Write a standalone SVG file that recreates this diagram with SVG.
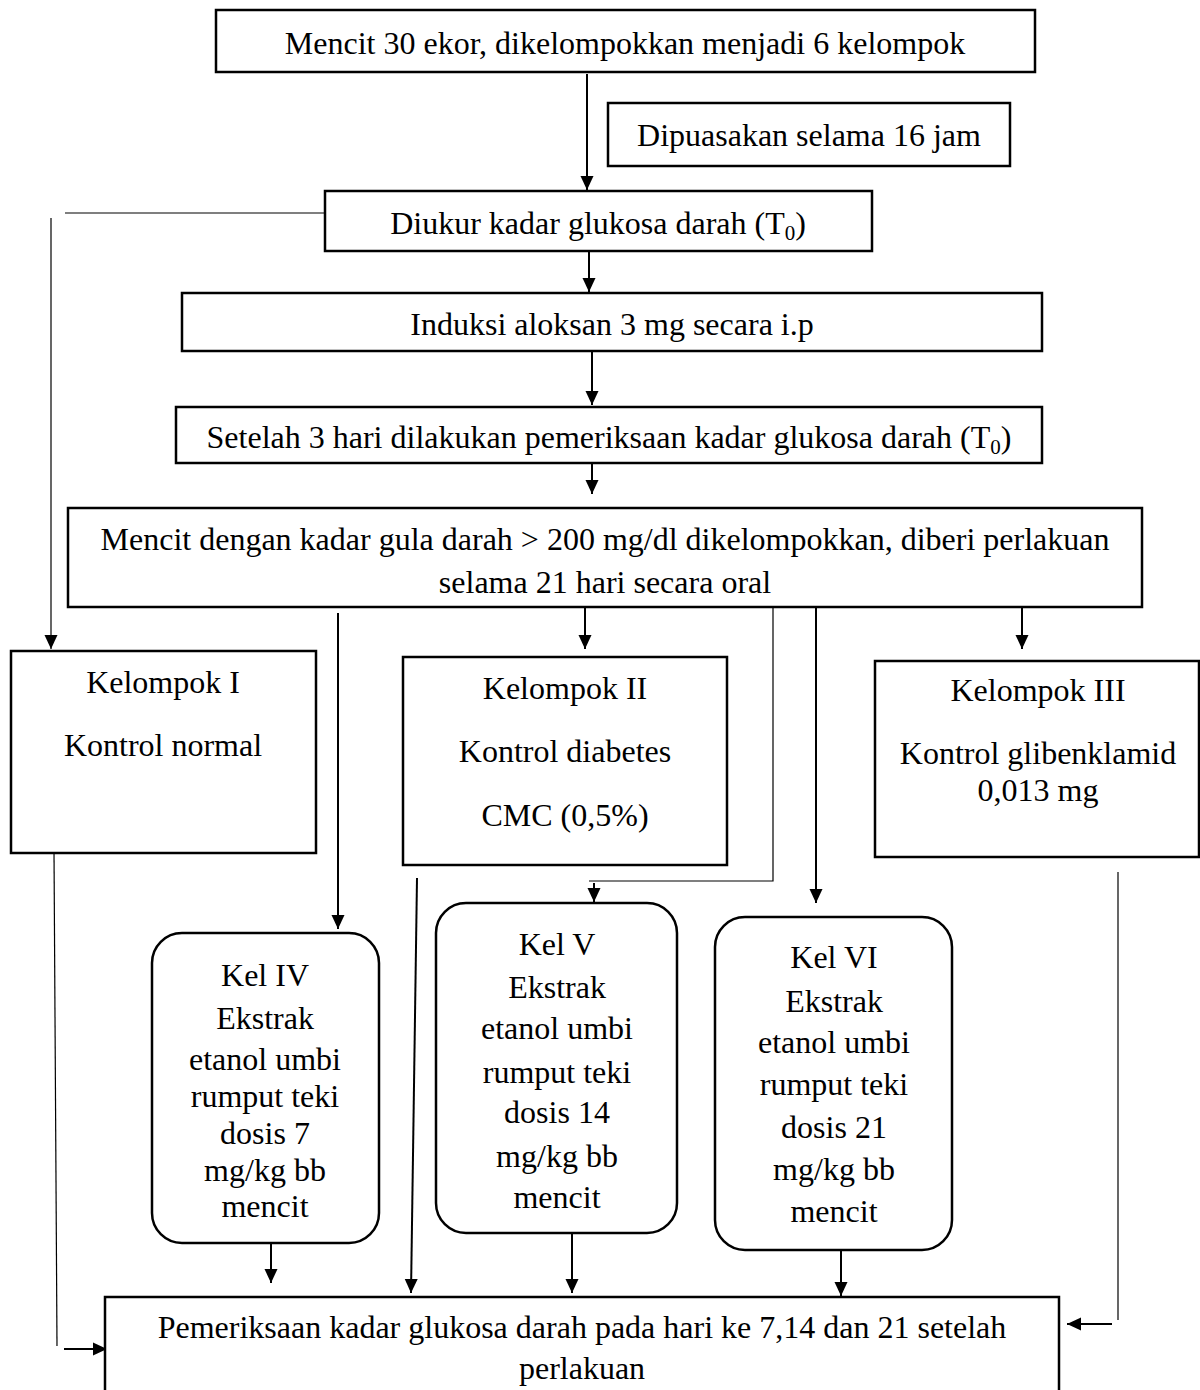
<svg xmlns="http://www.w3.org/2000/svg" width="1200" height="1390" viewBox="0 0 1200 1390">
<defs>
<style>
.box{fill:#fff;stroke:#000;stroke-width:2.5}
.t{font-family:"Liberation Serif","Times New Roman",serif;font-size:32px;fill:#000;text-anchor:middle}
.sub{font-size:21px}
.c{fill:none;stroke:#000;stroke-width:2}
.th{fill:none;stroke:#000;stroke-width:1.2}
</style>
<marker id="ah" viewBox="0 0 14 14" refX="14" refY="7" markerWidth="14" markerHeight="14" markerUnits="userSpaceOnUse" orient="auto">
<path d="M0,0.5 L14,7 L0,13.5 z" fill="#000"/>
</marker>
</defs>
<rect width="1200" height="1390" fill="#fff"/>

<g id="connectors">
<line class="c" x1="587" y1="74" x2="587" y2="190" marker-end="url(#ah)"/>
<line class="th" x1="325" y1="213" x2="65" y2="213"/>
<line class="th" x1="51" y1="218" x2="51" y2="649" marker-end="url(#ah)"/>
<line class="c" x1="589" y1="252" x2="589" y2="292" marker-end="url(#ah)"/>
<line class="c" x1="592" y1="352" x2="592" y2="405" marker-end="url(#ah)"/>
<line class="c" x1="592" y1="449" x2="592" y2="494" marker-end="url(#ah)"/>
<line class="c" x1="338" y1="613" x2="338" y2="929" marker-end="url(#ah)"/>
<line class="c" x1="585" y1="608" x2="585" y2="649" marker-end="url(#ah)"/>
<polyline class="th" points="773,608 773,881 589,881"/>
<line class="c" x1="594" y1="883" x2="594" y2="902" marker-end="url(#ah)"/>
<line class="c" x1="816" y1="608" x2="816" y2="903" marker-end="url(#ah)"/>
<line class="c" x1="1022" y1="608" x2="1022" y2="649" marker-end="url(#ah)"/>
<line class="th" x1="54" y1="851" x2="57" y2="1346"/>
<line class="c" x1="64" y1="1349" x2="107" y2="1349" marker-end="url(#ah)"/>
<line class="th" x1="1118" y1="872" x2="1118" y2="1320"/>
<line class="c" x1="1112" y1="1324" x2="1067" y2="1324" marker-end="url(#ah)"/>
<line class="c" x1="417" y1="878" x2="411" y2="1293" marker-end="url(#ah)"/>
<line class="c" x1="271" y1="1238" x2="271" y2="1283" marker-end="url(#ah)"/>
<line class="c" x1="572" y1="1229" x2="572" y2="1293" marker-end="url(#ah)"/>
<line class="c" x1="841" y1="1246" x2="841" y2="1296" marker-end="url(#ah)"/>
</g>

<g id="n1">
<rect class="box" x="216" y="10" width="819" height="62"/>
<text class="t" x="625" y="54">Mencit 30 ekor, dikelompokkan menjadi 6 kelompok</text>
</g>
<g id="n2">
<rect class="box" x="608" y="103" width="402" height="63"/>
<text class="t" x="809" y="146">Dipuasakan selama 16 jam</text>
</g>
<g id="n3">
<rect class="box" x="325" y="191" width="547" height="60"/>
<text class="t" x="598" y="234">Diukur kadar glukosa darah (T<tspan class="sub" dy="6">0</tspan><tspan dy="-6">)</tspan></text>
</g>
<g id="n4">
<rect class="box" x="182" y="293" width="860" height="58"/>
<text class="t" x="612" y="335">Induksi aloksan 3 mg secara i.p</text>
</g>
<g id="n5">
<rect class="box" x="176" y="407" width="866" height="56"/>
<text class="t" x="609" y="448">Setelah 3 hari dilakukan pemeriksaan kadar glukosa darah (T<tspan class="sub" dy="6">0</tspan><tspan dy="-6">)</tspan></text>
</g>
<g id="n6">
<rect class="box" x="68" y="508" width="1074" height="99"/>
<text class="t" x="605" y="550">Mencit dengan kadar gula darah &gt; 200 mg/dl dikelompokkan, diberi perlakuan</text>
<text class="t" x="605" y="593">selama 21 hari secara oral</text>
</g>
<g id="n7">
<rect class="box" x="11" y="651" width="305" height="202"/>
<text class="t" x="163" y="693">Kelompok I</text>
<text class="t" x="163" y="756">Kontrol normal</text>
</g>
<g id="n8">
<rect class="box" x="403" y="657" width="324" height="208"/>
<text class="t" x="565" y="699">Kelompok II</text>
<text class="t" x="565" y="762">Kontrol diabetes</text>
<text class="t" x="565" y="826">CMC (0,5%)</text>
</g>
<g id="n9">
<rect class="box" x="875" y="661" width="324" height="196"/>
<text class="t" x="1038" y="701">Kelompok III</text>
<text class="t" x="1038" y="764">Kontrol glibenklamid</text>
<text class="t" x="1038" y="801">0,013 mg</text>
</g>
<g id="n10">
<rect class="box" x="152" y="933" width="227" height="310" rx="30" ry="30"/>
<text class="t" x="265" y="986">Kel IV</text>
<text class="t" x="265" y="1029">Ekstrak</text>
<text class="t" x="265" y="1070">etanol umbi</text>
<text class="t" x="265" y="1107">rumput teki</text>
<text class="t" x="265" y="1144">dosis 7</text>
<text class="t" x="265" y="1181">mg/kg bb</text>
<text class="t" x="265" y="1217">mencit</text>
</g>
<g id="n11">
<rect class="box" x="436" y="903" width="241" height="330" rx="30" ry="30"/>
<text class="t" x="557" y="955">Kel V</text>
<text class="t" x="557" y="998">Ekstrak</text>
<text class="t" x="557" y="1039">etanol umbi</text>
<text class="t" x="557" y="1083">rumput teki</text>
<text class="t" x="557" y="1123">dosis 14</text>
<text class="t" x="557" y="1167">mg/kg bb</text>
<text class="t" x="557" y="1208">mencit</text>
</g>
<g id="n12">
<rect class="box" x="715" y="917" width="237" height="333" rx="30" ry="30"/>
<text class="t" x="834" y="968">Kel VI</text>
<text class="t" x="834" y="1012">Ekstrak</text>
<text class="t" x="834" y="1053">etanol umbi</text>
<text class="t" x="834" y="1095">rumput teki</text>
<text class="t" x="834" y="1138">dosis 21</text>
<text class="t" x="834" y="1180">mg/kg bb</text>
<text class="t" x="834" y="1222">mencit</text>
</g>
<g id="n13">
<rect class="box" x="105" y="1297" width="954" height="110"/>
<text class="t" x="582" y="1338">Pemeriksaan kadar glukosa darah pada hari ke 7,14 dan 21 setelah</text>
<text class="t" x="582" y="1379">perlakuan</text>
</g>
</svg>
